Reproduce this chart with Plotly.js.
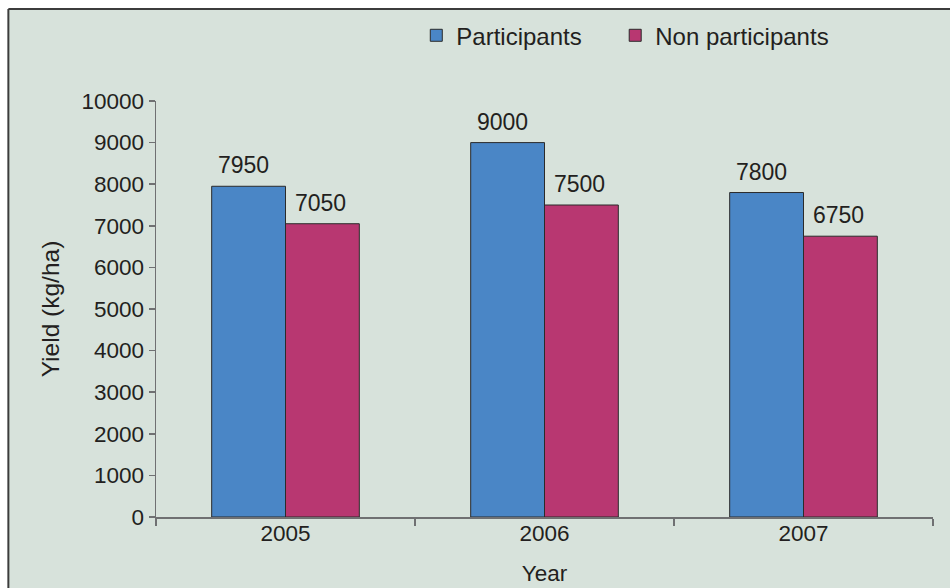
<!DOCTYPE html>
<html>
<head>
<meta charset="utf-8">
<script src="https://cdn.plot.ly/plotly-3.0.1.min.js"></script>
<style>
  html, body { margin: 0; padding: 0; background: #ffffff; }
  #chart { width: 950px; height: 588px; }
</style>
</head>
<body>
<div id="chart"></div>
<script>
// Yield by year for programme participants and non participants
const years = ['2005', '2006', '2007'];
const participants = [7950, 9000, 7800];
const nonParticipants = [7050, 7500, 6750];
const yTicks = [0, 1000, 2000, 3000, 4000, 5000, 6000, 7000, 8000, 9000, 10000];

const FONT = 'Liberation Sans, Arial, sans-serif';
const INK = '#231f20';
const PANEL = '#d7e2db';
const AXIS = '#6f7072';

const barStyle = (fill) => ({
  color: fill,
  line: { color: '#2b2b2b', width: 1 }
});

const traces = [
  {
    type: 'bar',
    name: 'Participants',
    x: years,
    y: participants,
    marker: barStyle('#4a86c6'),
    legend: 'legend'
  },
  {
    type: 'bar',
    name: 'Non participants',
    x: years,
    y: nonParticipants,
    marker: barStyle('#b83771'),
    legend: 'legend2'
  }
];

// value labels sit above each bar, shifted onto its half of the group
// (x is the category index on the category axis)
const valueLabel = (idx, y, dx) => ({
  x: idx, y: y, xref: 'x', yref: 'y',
  text: String(y),
  showarrow: false,
  xanchor: 'center', yanchor: 'bottom',
  xshift: dx, yshift: 6,
  font: { family: FONT, size: 23, color: INK }
});

const annotations = [
  ...years.map((yr, i) => valueLabel(i, participants[i], -42)),
  ...years.map((yr, i) => valueLabel(i, nonParticipants[i], 35))
];

const legendStyle = (x) => ({
  orientation: 'h',
  x: x,
  xanchor: 'left',
  y: 1.157,
  yanchor: 'middle',
  bgcolor: 'rgba(0,0,0,0)',
  font: { family: FONT, size: 24, color: INK },
  itemwidth: 30
});

const layout = {
  width: 950,
  height: 588,
  margin: { l: 156, r: 17, t: 101, b: 71, pad: 0 },
  paper_bgcolor: '#ffffff',
  plot_bgcolor: 'rgba(0,0,0,0)',
  font: { family: FONT, size: 22, color: INK },
  barmode: 'group',
  bargap: 0.43,
  bargroupgap: 0,
  showlegend: true,
  legend: legendStyle(0.335),
  legend2: legendStyle(0.591),
  xaxis: {
    type: 'category',
    categoryorder: 'array',
    categoryarray: years,
    showline: true,
    linecolor: AXIS,
    linewidth: 1.5,
    ticks: 'outside',
    tickson: 'boundaries',
    ticklen: 7,
    tickcolor: AXIS,
    tickwidth: 1.5,
    tickangle: 0,
    ticklabelstandoff: -5,
    tickfont: { family: FONT, size: 22.5, color: INK },
    showgrid: false,
    zeroline: false,
    title: { text: 'Year', font: { family: FONT, size: 22.5, color: INK }, standoff: 20 }
  },
  yaxis: {
    range: [0, 10000],
    tickvals: yTicks,
    ticktext: yTicks.map(String),
    showline: true,
    linecolor: AXIS,
    linewidth: 1.5,
    ticks: 'outside',
    ticklen: 6,
    tickcolor: AXIS,
    tickwidth: 1.5,
    tickfont: { family: FONT, size: 22.5, color: INK },
    showgrid: false,
    zeroline: false,
    title: { text: 'Yield (kg/ha)', font: { family: FONT, size: 24.5, color: INK }, standoff: 15 }
  },
  annotations: annotations,
  shapes: [
    // panel background
    {
      type: 'rect', xref: 'paper', yref: 'paper', layer: 'below',
      x0: -0.19, x1: 1.05, y0: -0.25, y1: 1.2212,
      fillcolor: PANEL, line: { width: 0 }
    },
    // dark frame along top and left edges
    {
      type: 'line', xref: 'paper', yref: 'paper', layer: 'below',
      x0: -0.19, x1: 1.05, y0: 1.2212, y1: 1.2212,
      line: { color: '#3c3c3c', width: 2 }
    },
    {
      type: 'line', xref: 'paper', yref: 'paper', layer: 'below',
      x0: -0.19, x1: -0.19, y0: -0.25, y1: 1.2212,
      line: { color: '#3c3c3c', width: 2 }
    }
  ]
};

Plotly.newPlot('chart', traces, layout, { displayModeBar: false, staticPlot: true });
</script>
</body>
</html>
